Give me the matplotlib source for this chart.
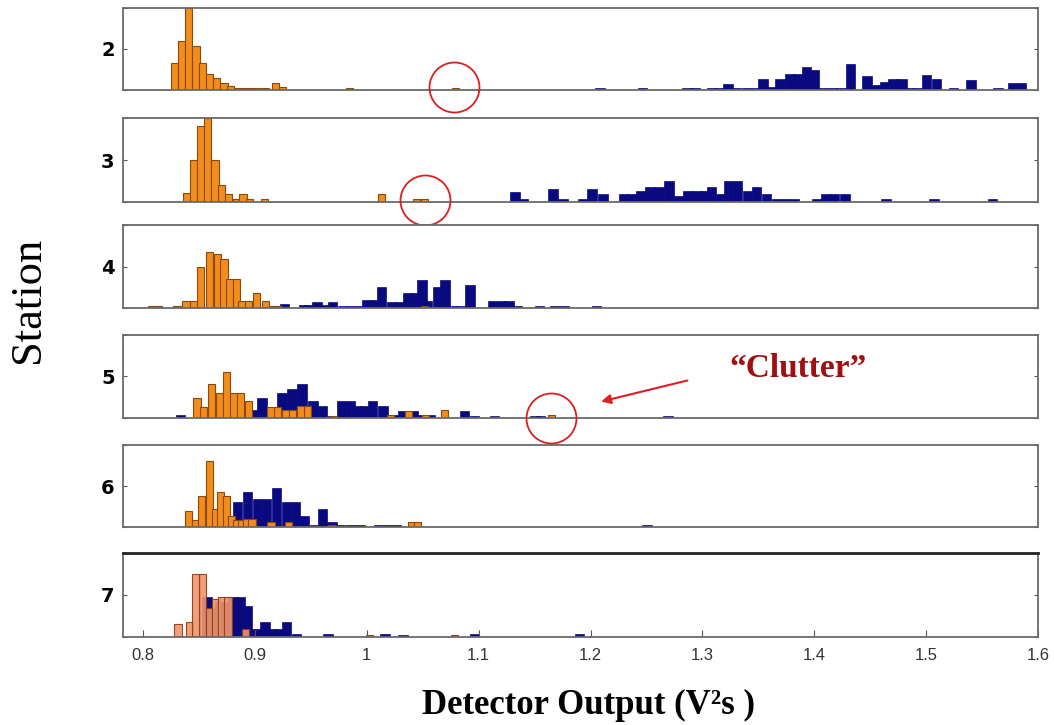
import matplotlib
matplotlib.use('Agg')
import matplotlib.pyplot as plt

stations = ['2', '3', '4', '5', '6', '7']

# left bin edges and heights (fraction of panel height)
orange_x_2 = [0.825, 0.831, 0.8375, 0.844, 0.850, 0.856, 0.8625, 0.869, 0.875, 0.881, 0.8875,
              0.894, 0.900, 0.906, 0.915, 0.9215, 0.981, 1.076]
orange_h_2 = [0.33, 0.60, 1.0, 0.54, 0.33, 0.20, 0.15, 0.09, 0.05, 0.02, 0.02,
              0.02, 0.02, 0.02, 0.09, 0.04, 0.03, 0.03]
navy_x_2 = [1.204, 1.242, 1.282, 1.289, 1.304, 1.311, 1.3185, 1.326, 1.335, 1.343, 1.350, 1.358,
            1.365, 1.374, 1.381, 1.389, 1.396, 1.404, 1.412, 1.4195, 1.428, 1.443, 1.452, 1.459,
            1.466, 1.474, 1.481, 1.488, 1.496, 1.505, 1.520, 1.536, 1.560, 1.573, 1.581]
navy_h_2 = [0.03, 0.03, 0.03, 0.03, 0.02, 0.02, 0.07, 0.02, 0.02, 0.03, 0.14, 0.04,
            0.14, 0.20, 0.20, 0.28, 0.24, 0.03, 0.03, 0.03, 0.32, 0.17, 0.06, 0.10,
            0.13, 0.13, 0.03, 0.03, 0.18, 0.13, 0.03, 0.12, 0.03, 0.08, 0.08]

orange_x_3 = [0.836, 0.842, 0.848, 0.8545, 0.861, 0.867, 0.873, 0.880, 0.886, 0.892, 0.905,
              1.010, 1.041, 1.048]
orange_h_3 = [0.11, 0.50, 0.90, 1.0, 0.50, 0.20, 0.10, 0.04, 0.10, 0.04, 0.04,
              0.10, 0.03, 0.03]
navy_x_3 = [1.128, 1.136, 1.162, 1.171, 1.189, 1.197, 1.207, 1.225, 1.233, 1.241, 1.249, 1.257,
            1.266, 1.275, 1.283, 1.291, 1.298, 1.304, 1.312, 1.319, 1.327, 1.336, 1.344, 1.353,
            1.362, 1.370, 1.378, 1.398, 1.406, 1.414, 1.423, 1.460, 1.503, 1.555]
navy_h_3 = [0.12, 0.03, 0.16, 0.03, 0.03, 0.16, 0.10, 0.10, 0.10, 0.13, 0.18, 0.18,
            0.25, 0.07, 0.13, 0.13, 0.13, 0.18, 0.10, 0.25, 0.25, 0.13, 0.18, 0.10,
            0.03, 0.03, 0.03, 0.03, 0.10, 0.10, 0.10, 0.03, 0.03, 0.03]

orange_x_4 = [0.804, 0.810, 0.827, 0.835, 0.842, 0.848, 0.856, 0.863, 0.869, 0.874, 0.880,
              0.885, 0.891, 0.898, 0.906, 0.913, 0.918, 1.048]
orange_h_4 = [0.03, 0.03, 0.03, 0.08, 0.08, 0.50, 0.68, 0.65, 0.59, 0.35, 0.35,
              0.08, 0.08, 0.18, 0.08, 0.03, 0.03, 0.03]
navy_x_4 = [0.922, 0.939, 0.944, 0.951, 0.958, 0.965, 0.974, 0.981, 0.989, 0.996, 1.003,
            1.009, 1.018, 1.025, 1.032, 1.039, 1.045, 1.050, 1.059, 1.0655, 1.073, 1.080,
            1.088, 1.108, 1.116, 1.123, 1.130, 1.150, 1.164, 1.172, 1.201]
navy_h_4 = [0.05, 0.04, 0.04, 0.07, 0.04, 0.07, 0.02, 0.02, 0.02, 0.10, 0.10,
            0.25, 0.07, 0.07, 0.18, 0.18, 0.34, 0.08, 0.25, 0.34, 0.03, 0.03,
            0.28, 0.08, 0.08, 0.08, 0.03, 0.03, 0.03, 0.03, 0.03]

orange_x_5 = [0.845, 0.851, 0.858, 0.865, 0.8715, 0.878, 0.884, 0.891, 0.911, 0.917, 0.924,
              0.9305, 0.938, 0.944, 0.967, 1.018, 1.034, 1.049, 1.066, 1.162]
orange_h_5 = [0.24, 0.13, 0.41, 0.30, 0.55, 0.30, 0.30, 0.20, 0.13, 0.13, 0.10,
              0.10, 0.15, 0.15, 0.03, 0.04, 0.08, 0.04, 0.10, 0.04]
navy_x_5 = [0.829, 0.897, 0.902, 0.911, 0.920, 0.929, 0.938, 0.9475, 0.956, 0.965, 0.973,
            0.981, 0.987, 0.994, 1.001, 1.010, 1.019, 1.028, 1.037, 1.046, 1.052, 1.083,
            1.092, 1.110, 1.146, 1.151, 1.265]
navy_h_5 = [0.04, 0.10, 0.24, 0.05, 0.30, 0.35, 0.41, 0.21, 0.14, 0.03, 0.20,
            0.20, 0.14, 0.14, 0.20, 0.14, 0.04, 0.08, 0.08, 0.04, 0.04, 0.08,
            0.03, 0.03, 0.03, 0.03, 0.03]

orange_x_6 = [0.8375, 0.844, 0.849, 0.856, 0.862, 0.866, 0.8715, 0.876, 0.880, 0.885, 0.889,
              0.894, 0.911, 0.927, 0.965, 1.037, 1.042]
orange_h_6 = [0.20, 0.08, 0.38, 0.80, 0.22, 0.43, 0.38, 0.13, 0.08, 0.08, 0.10,
              0.10, 0.06, 0.06, 0.03, 0.06, 0.06]
navy_x_6 = [0.880, 0.889, 0.898, 0.906, 0.915, 0.924, 0.932, 0.940, 0.949, 0.956, 0.9645,
            0.972, 0.981, 0.9895, 1.006, 1.014, 1.022, 1.246]
navy_h_6 = [0.30, 0.43, 0.34, 0.34, 0.48, 0.30, 0.30, 0.13, 0.03, 0.22, 0.06,
            0.02, 0.02, 0.02, 0.02, 0.02, 0.02, 0.03]

orange_x_7 = [0.828, 0.838, 0.844, 0.850, 0.856, 0.862, 0.867, 0.8725, 0.8885, 0.999, 1.075]
orange_h_7 = [0.15, 0.18, 0.75, 0.75, 0.35, 0.45, 0.48, 0.48, 0.10, 0.02, 0.02]
navy_x_7 = [0.853, 0.858, 0.864, 0.8705, 0.876, 0.883, 0.889, 0.897, 0.9045, 0.911, 0.918,
            0.924, 0.933, 0.961, 1.012, 1.028, 1.092, 1.186]
navy_h_7 = [0.48, 0.35, 0.42, 0.42, 0.48, 0.48, 0.37, 0.10, 0.18, 0.10, 0.10,
            0.18, 0.04, 0.04, 0.03, 0.02, 0.03, 0.03]

xticks = [0.8, 0.9, 1.0, 1.1, 1.2, 1.3, 1.4, 1.5, 1.6]
xtick_labels = ['0.8', '0.9', '1', '1.1', '1.2', '1.3', '1.4', '1.5', '1.6']

# circled outliers: (station, x, y)
circles = [('2', 1.078, 0.04), ('3', 1.052, 0.02), ('5', 1.165, 0.0)]

data = {
    '2': (orange_x_2, orange_h_2, navy_x_2, navy_h_2),
    '3': (orange_x_3, orange_h_3, navy_x_3, navy_h_3),
    '4': (orange_x_4, orange_h_4, navy_x_4, navy_h_4),
    '5': (orange_x_5, orange_h_5, navy_x_5, navy_h_5),
    '6': (orange_x_6, orange_h_6, navy_x_6, navy_h_6),
    '7': (orange_x_7, orange_h_7, navy_x_7, navy_h_7),
}

# panel top/bottom in pixels
panel_px = [(8, 90), (118, 202), (225, 308), (335, 418), (445, 527), (553, 637)]
W, H = 1054, 725
navy = '#0a0a80'
orange = '#f28c1c'
orange_edge = '#8a4a0c'

fig = plt.figure(figsize=(W / 100, H / 100), dpi=100)
axes = {}
for i, st in enumerate(stations):
    top, bot = panel_px[i]
    ax = fig.add_axes([123 / W, 1 - bot / H, 915 / W, (bot - top) / H])
    axes[st] = ax
    ox, oh, nx, nh = data[st]
    ax.bar(nx, nh, width=0.0085, align='edge', color=navy, edgecolor=navy, linewidth=0.5)
    if st == '7':
        ax.bar(ox, oh, width=0.0065, align='edge', color='#f0956a', edgecolor='#8b3a1a',
               linewidth=0.8, alpha=0.9)
    else:
        ax.bar(ox, oh, width=0.0065, align='edge', color=orange, edgecolor=orange_edge,
               linewidth=0.8)
    ax.set_xlim(0.782, 1.6)
    ax.set_ylim(0, 1)
    ax.set_yticks([0, 0.5, 1])
    ax.set_yticklabels(['', st, ''], fontsize=14, fontweight='bold')
    ax.tick_params(axis='y', direction='in', length=3, left=True, right=True, pad=6,
                   color='#555555')
    for sp in ax.spines.values():
        sp.set_color('#6a6a6a')
        sp.set_linewidth(1.3)
    if st == '7':
        ax.spines['top'].set_color('#222222')
        ax.spines['top'].set_linewidth(2)
        ax.set_xticks(xticks)
        ax.set_xticklabels(xtick_labels, fontsize=12, family='Liberation Sans', color='#333333')
        ax.tick_params(axis='x', direction='in', length=5, pad=8, color='#555555')
    else:
        ax.set_xticks([])

for st, cx, cy in circles:
    axes[st].plot([cx], [cy], marker='o', ms=36, mfc='none', mec='#d82020', mew=1.3,
                  clip_on=False, zorder=10)

ax5 = axes['5']
ax5.text(1.385, 0.60, '\u201cClutter\u201d', color='#a01010', fontsize=24, fontweight='bold',
         family='Liberation Serif', ha='center', va='center')
ax5.annotate('', xy=(1.207, 0.19), xytext=(1.289, 0.46),
             arrowprops=dict(arrowstyle='-|>', color='#e02020', lw=1.5, mutation_scale=14))

fig.text(28 / W, 1 - 300 / H, 'Station', rotation=90, fontsize=32, family='Liberation Serif',
         ha='center', va='center')
fig.text(588 / W, 1 - 705 / H, 'Detector Output (V\u00b2s )', fontsize=25, fontweight='bold',
         family='Liberation Serif', ha='center', va='center')

fig.savefig('out.png', dpi=100)
